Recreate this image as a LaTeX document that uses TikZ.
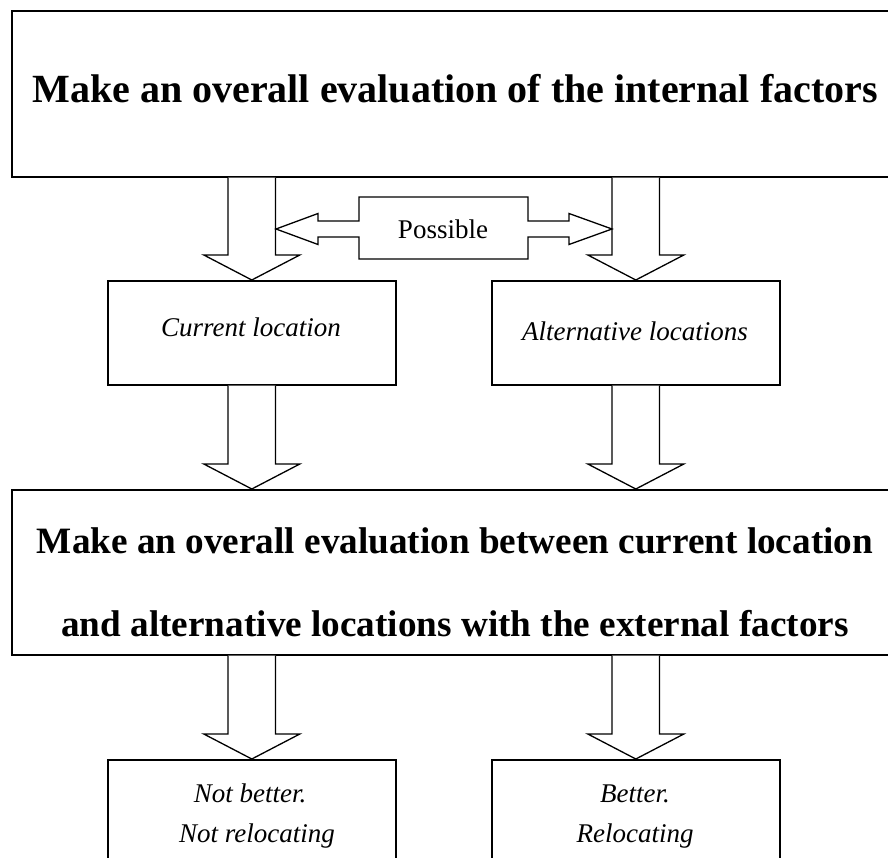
\documentclass[tikz,border=0pt]{standalone}
\usepackage{fontspec}
\setmainfont{Liberation Serif}
\usetikzlibrary{calc}
\tikzset{
  boxshape/.style={draw, line width=1.6pt, inner sep=0pt, anchor=north west},
  blk/.style={draw, line width=1.3pt, line join=miter, fill=white},
  bigtxt/.style={font=\fontsize{40}{48}\selectfont\bfseries, anchor=base, inner sep=0pt},
  midtxt/.style={font=\fontsize{37.2}{44}\selectfont\bfseries, anchor=base, inner sep=0pt},
  ittxt/.style={font=\fontsize{27}{32}\selectfont\itshape, anchor=base, inner sep=0pt},
  rmtxt/.style={font=\fontsize{27}{32}\selectfont, anchor=base, inner sep=0pt}
}
% block arrow from point #1 down to point #2 (tip)
\newcommand{\blockarrow}[2]{%
  \draw[blk] let \p1=#1, \p2=#2 in
    (\x2-23.75pt,\y1) -- (\x2-23.75pt,\y2+25pt) -- (\x2-48pt,\y2+25pt) -- (\x2,\y2)
    -- (\x2+48pt,\y2+25pt) -- (\x2+23.75pt,\y2+25pt) -- (\x2+23.75pt,\y1);}
\begin{document}
\begin{tikzpicture}[x=1pt,y=-1pt]
\useasboundingbox (0,0) rectangle (888,858);
\clip (0,0) rectangle (888,858);
\fill[white] (0,0) rectangle (888,858);

% boxes
\node[boxshape, minimum width=889pt, minimum height=166pt] (top) at (11,10) {};
\node[boxshape, minimum width=288pt, minimum height=104pt] (cur) at (107,280) {};
\node[boxshape, minimum width=288pt, minimum height=104pt] (alt) at (491,280) {};
\node[boxshape, minimum width=889pt, minimum height=165pt] (eval) at (11,489) {};
\node[boxshape, minimum width=288pt, minimum height=130pt] (nb) at (107,759) {};
\node[boxshape, minimum width=288pt, minimum height=130pt] (bt) at (491,759) {};

% texts
\node[bigtxt] (t1) at (455,103) {Make an overall evaluation of the internal factors};
\node[ittxt] (tcur) at (251,337) {Current location};
\node[ittxt] (talt) at (635,341) {Alternative locations};
\node[midtxt] (t2a) at (455,553) {Make an overall evaluation between current location};
\node[midtxt] (t2b) at (455,636) {and alternative locations with the external factors};
\node[ittxt] (tnb1) at (250,802) {Not better.};
\node[ittxt] (tnb2) at (257,842) {Not relocating};
\node[ittxt] (tbt1) at (635,802) {Better.};
\node[ittxt] (tbt2) at (635,842) {Relocating};

% block arrows
\blockarrow{(top.south -| cur.north)}{(cur.north)}
\blockarrow{(top.south -| alt.north)}{(alt.north)}
\blockarrow{(cur.south)}{(cur.south |- eval.north)}
\blockarrow{(alt.south)}{(alt.south |- eval.north)}
\blockarrow{(eval.south -| nb.north)}{(nb.north)}
\blockarrow{(eval.south -| bt.north)}{(bt.north)}

% Possible double arrow
\coordinate (ltip) at (276,229);
\coordinate (rtip) at (612,229);
\draw[blk] (359,197) -- (528,197) -- (528,221) -- (569,221) -- (569,213.5) -- (rtip)
  -- (569,244.5) -- (569,237) -- (528,237) -- (528,259) -- (359,259) -- (359,237)
  -- (318,237) -- (318,244.5) -- (ltip) -- (318,213.5) -- (318,221) -- (359,221) -- cycle;
\node[rmtxt] (poss) at (443,239) {Possible};
\end{tikzpicture}
\end{document}
